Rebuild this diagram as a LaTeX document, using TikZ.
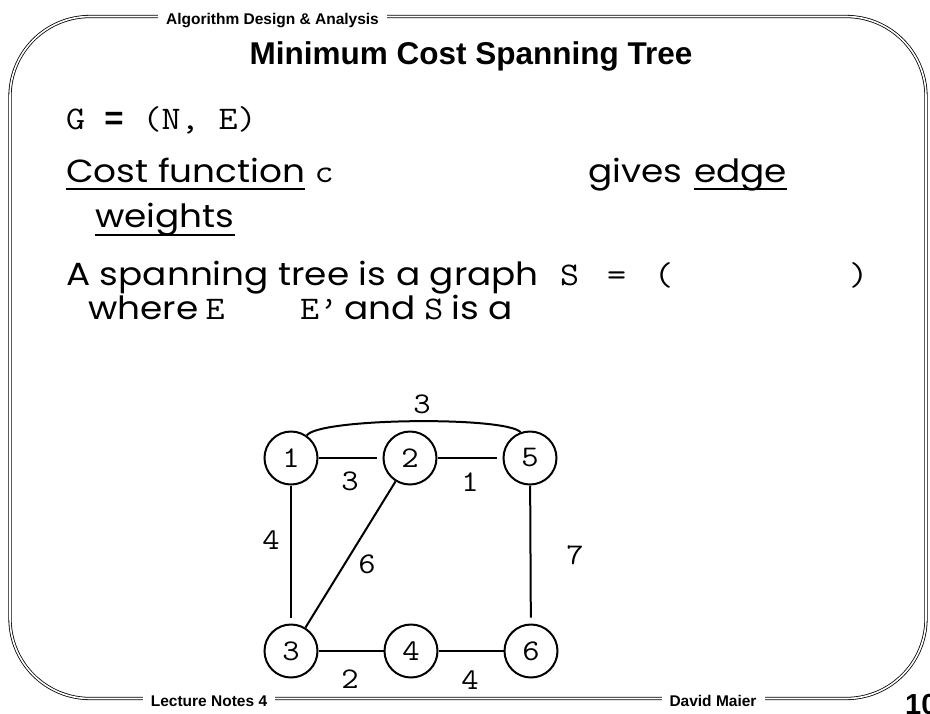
\documentclass[tikz,border=0pt]{standalone}
\usepackage{fontspec}
\setmainfont{Liberation Sans}
\newfontfamily\comic{Poppins}[FakeStretch=1.12]
\newfontfamily\cour{Latin Modern Mono}[FakeStretch=1.12]
\newfontfamily\hel{Liberation Sans}
\begin{document}
\begin{tikzpicture}[x=1pt,y=-1pt,
  frame/.style={draw, double, line width=0.8pt, double distance=1.6pt},
  hdr/.style={font=\hel\bfseries\fontsize{15.5}{18}\selectfont, fill=white, inner xsep=8pt, inner ysep=2pt, anchor=base},
  ttl/.style={font=\hel\bfseries\fontsize{31.5}{34}\selectfont, anchor=base, inner sep=0pt},
  body/.style={font=\comic\fontsize{32}{38}\selectfont, anchor=base west, inner sep=0pt},
  mono/.style={font=\cour\fontsize{33}{36}\selectfont, anchor=base west, inner sep=0pt},
  vtx/.style={circle, draw, line width=2pt, minimum size=53pt, inner sep=0pt, font=\cour\fontsize{30}{32}\selectfont},
  lbl/.style={inner sep=0pt, font=\cour\fontsize{30}{32}\selectfont},
  edge/.style={line width=2pt},
  uline/.style={line width=2pt}
]
\useasboundingbox (0,0) rectangle (930,713);
% frame
\draw[frame, rounded corners=80pt] (10,16.5) rectangle (926,698.5);
\node[hdr] (hd) at (272.5,24) {Algorithm Design \& Analysis};
\node[hdr] (ft1) at (209,706) {Lecture Notes 4};
\node[hdr] (ft2) at (713,706) {David Maier};
\node[font=\hel\bfseries\fontsize{29}{32}\selectfont, anchor=base west, inner sep=0pt] (pg) at (905,714) {10};
% title
\node[ttl] (title) at (471,64) {Minimum Cost Spanning Tree};
% line 1
\node[mono] (l1) at (66,129) {G {\hel\bfseries =} (N, E)};
% line 2
\node[body] (cf) at (66,182) {Cost function};
\node[mono] (cc) at ([xshift=9pt]cf.base east) {c};
\node[body] (gv) at (588,182) {gives};
\node[body] (ed) at (694,182) {edge};
\draw[uline] ([yshift=-7pt]cf.base west) -- ([yshift=-7pt]cf.base east);
\draw[uline] ([yshift=-7pt]ed.base west) -- ([yshift=-7pt]ed.base east);
% line 3
\node[body] (wt) at (95,227) {weights};
\draw[uline] ([yshift=-8pt]wt.base west) -- ([yshift=-8pt]wt.base east);
% line 4
\node[body] (sp) at (66,285) {A spanning tree is a graph};
\node[mono] (s1) at (560,285) {S};
\node[mono] (s2) at (607,285) {=};
\node[mono] (s3) at (654,285) {(};
\node[mono] (s4) at (849,285) {)};
% line 5
\node[body] (wh) at (88,319) {where};
\node[mono] (e1) at ([xshift=7pt]wh.base east) {E};
\node[mono] (e2) at (300,319) {E’};
\node[body] (an) at ([xshift=6pt]e2.base east) {and};
\node[mono] (s5) at ([xshift=8pt]an.base east) {S};
\node[body] (isa) at ([xshift=8pt]s5.base east) {is a};
% graph
\node[vtx] (n1) at (291,458) {1};
\node[vtx] (n2) at (410,458) {2};
\node[vtx] (n5) at (530,458) {5};
\node[vtx] (n3) at (291,651) {3};
\node[vtx] (n4) at (411,651) {4};
\node[vtx] (n6) at (531,651) {6};
\draw[edge, shorten >=6pt] (n1) -- (n2);
\draw[edge, shorten >=6pt] (n2) -- (n5);
\draw[edge, shorten >=6pt] (n1) -- (n3);
\draw[edge, shorten >=6pt] (n5) -- (n6);
\draw[edge] (n2) -- (n3);
\draw[edge] (n3) -- (n4);
\draw[edge] (n4) -- (n6);
\draw[edge] (n1.55) .. controls (318,418) and (505,416) .. (n5.110);
\node[lbl] (w15) at (422,404) {3};
\node[lbl] (w12) at (350,481) {3};
\node[lbl] (w25) at (470,482) {1};
\node[lbl] (w13) at (271,540) {4};
\node[lbl] (w23) at (367,564) {6};
\node[lbl] (w56) at (575,555) {7};
\node[lbl] (w34) at (350,679) {2};
\node[lbl] (w46) at (470,680) {4};
\end{tikzpicture}
\end{document}
